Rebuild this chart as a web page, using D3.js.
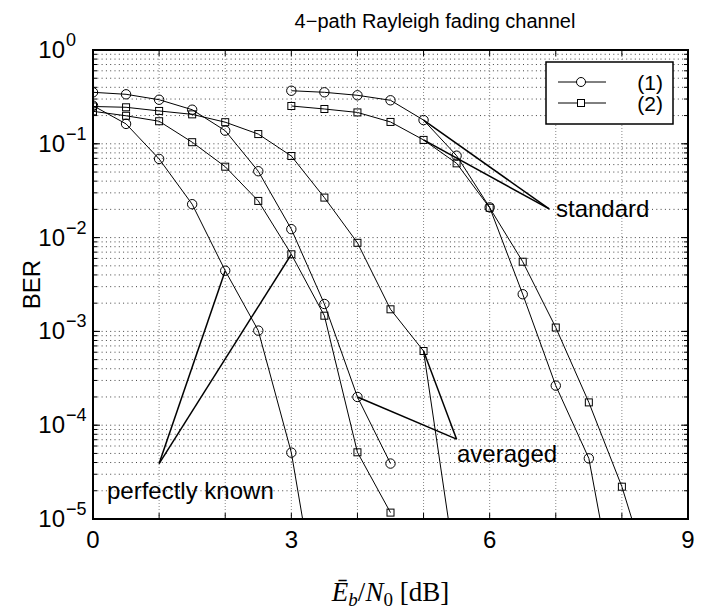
<!DOCTYPE html>
<head>
	<meta charset="utf-8">
	<script src="https://d3js.org/d3.v7.min.js"></script>
	<style>
		body { margin: 0; background: #fff; }
		text { font-family: "Liberation Sans", Arial, sans-serif; fill: #000; }
	</style>
</head>
<body>
	<script type="text/javascript">

		var w = 705;
		var h = 609;

		// Eb/N0 in dB, one array for every curve
		var snrPerfect1 = [0, 0.5, 1, 1.5, 2, 2.5, 3, 3.5];
		var berPerfect1 = [0.255, 0.163, 0.069, 0.0227, 0.00444, 0.00102, 5.1e-5, 4.3e-7];

		var snrAveraged1 = [0, 0.5, 1, 1.5, 2, 2.5, 3, 3.5, 4, 4.5];
		var berAveraged1 = [0.354, 0.337, 0.295, 0.231, 0.138, 0.051, 0.0123, 0.00196, 2.0e-4, 3.9e-5];

		var snrStandard1 = [3, 3.5, 4, 4.5, 5, 5.5, 6, 6.5, 7, 7.5, 8];
		var berStandard1 = [0.368, 0.354, 0.329, 0.291, 0.179, 0.0747, 0.021, 0.00249, 2.64e-4, 4.43e-5, 5.6e-7];

		var snrPerfect2 = [0, 0.5, 1, 1.5, 2, 2.5, 3, 3.5, 4, 4.5];
		var berPerfect2 = [0.222, 0.199, 0.174, 0.104, 0.057, 0.0246, 0.00664, 0.00147, 5.14e-5, 1.17e-5];

		var snrAveraged2 = [0, 0.5, 1, 1.5, 2, 2.5, 3, 3.5, 4, 4.5, 5, 5.5];
		var berAveraged2 = [0.25, 0.245, 0.224, 0.206, 0.170, 0.127, 0.0741, 0.0267, 0.0088, 0.00172, 6.18e-4, 2.5e-6];

		var snrStandard2 = [3, 3.5, 4, 4.5, 5, 5.5, 6, 6.5, 7, 7.5, 8, 8.5];
		var berStandard2 = [0.253, 0.235, 0.216, 0.171, 0.110, 0.0619, 0.0208, 0.00553, 0.0011, 1.75e-4, 2.21e-5, 1.6e-6];

		var xTicks = [0, 1, 2, 3, 4, 5, 6, 7, 8, 9];
		var xTickLabels = ["0", "", "", "3", "", "", "6", "", "", "9"];
		var yExponents = [0, -1, -2, -3, -4, -5];
		var legendLabels = ["(1)", "(2)"];

		// annotation: tip point, then the points the lines go to
		var notes = [
			{text: "standard", tip: [6.9, 0.0202], to: [[5, 0.179], [5, 0.110]]},
			{text: "averaged", tip: [5.5, 7.1e-5], to: [[4, 2.0e-4], [5, 6.18e-4]]},
			{text: "perfectly known", tip: [1, 3.9e-5], to: [[2, 0.00444], [3, 0.00664]]}
		];

		var pLeft = 93, pRight = 688, pTop = 50, pBottom = 519;

		var svg = d3.select("body")
				.append("svg")
				.attr("width", w)
				.attr("height", h);

		var xScale = d3.scaleLinear()
					.domain([0, 9])
					.range([pLeft, pRight]);

		var yScale = d3.scaleLog()
					.domain([1e-5, 1])
					.range([pBottom, pTop]);

		svg.append("clipPath")
			.attr("id", "plotclip")
			.append("rect")
			.attr("x", pLeft)
			.attr("y", pTop)
			.attr("width", pRight - pLeft)
			.attr("height", pBottom - pTop);

		// grid
		var minorVals = [];
		yExponents.forEach(function(e) {
			if (e == 0) return;
			for (var k = 1; k <= 9; k++) minorVals.push(k * Math.pow(10, e));
		});

		svg.append("g").selectAll("line")
			.data(minorVals)
			.enter()
			.append("line")
			.attr("x1", pLeft)
			.attr("x2", pRight)
			.attr("y1", function(d) { return yScale(d); })
			.attr("y2", function(d) { return yScale(d); })
			.attr("stroke", "#444")
			.attr("stroke-width", 1)
			.attr("stroke-dasharray", "1,3.3");

		svg.append("g").selectAll("line")
			.data(xTicks.slice(1, -1))
			.enter()
			.append("line")
			.attr("x1", function(d) { return xScale(d); })
			.attr("x2", function(d) { return xScale(d); })
			.attr("y1", pTop)
			.attr("y2", pBottom)
			.attr("stroke", "#888")
			.attr("stroke-width", 1)
			.attr("stroke-dasharray", "1,2");

		// curves
		var series = [
			{x: snrPerfect1, y: berPerfect1, mark: "circle"},
			{x: snrAveraged1, y: berAveraged1, mark: "circle"},
			{x: snrStandard1, y: berStandard1, mark: "circle"},
			{x: snrPerfect2, y: berPerfect2, mark: "square"},
			{x: snrAveraged2, y: berAveraged2, mark: "square"},
			{x: snrStandard2, y: berStandard2, mark: "square"}
		];

		var line = d3.line()
				.x(function(d) { return xScale(d[0]); })
				.y(function(d) { return yScale(d[1]); });

		var plot = svg.append("g").attr("clip-path", "url(#plotclip)");

		series.forEach(function(s) {
			var pts = s.x.map(function(v, i) { return [v, s.y[i]]; });
			plot.append("path")
				.attr("d", line(pts))
				.attr("fill", "none")
				.attr("stroke", "#000")
				.attr("stroke-width", 1);

			var shown = pts.filter(function(p) { return p[1] >= 1e-5; });
			if (s.mark == "circle") {
				plot.selectAll(null)
					.data(shown)
					.enter()
					.append("circle")
					.attr("cx", function(d) { return xScale(d[0]); })
					.attr("cy", function(d) { return yScale(d[1]); })
					.attr("r", 4.7)
					.attr("fill", "none")
					.attr("stroke", "#000");
			} else {
				plot.selectAll(null)
					.data(shown)
					.enter()
					.append("rect")
					.attr("x", function(d) { return xScale(d[0]) - 3.5; })
					.attr("y", function(d) { return yScale(d[1]) - 3.5; })
					.attr("width", 7)
					.attr("height", 7)
					.attr("fill", "none")
					.attr("stroke", "#000");
			}
		});

		// annotations
		notes.forEach(function(n) {
			n.to.forEach(function(p) {
				svg.append("line")
					.attr("x1", xScale(n.tip[0]))
					.attr("y1", yScale(n.tip[1]))
					.attr("x2", xScale(p[0]))
					.attr("y2", yScale(p[1]))
					.attr("stroke", "#000")
					.attr("stroke-width", 1.5);
			});
		});

		svg.append("text").attr("x", 556).attr("y", 217).attr("font-size", 24).text(notes[0].text);
		svg.append("text").attr("x", 457).attr("y", 462).attr("font-size", 24).text(notes[1].text);
		svg.append("text").attr("x", 107).attr("y", 499).attr("font-size", 24).text(notes[2].text);

		// frame and ticks
		svg.append("rect")
			.attr("x", pLeft)
			.attr("y", pTop)
			.attr("width", pRight - pLeft)
			.attr("height", pBottom - pTop)
			.attr("fill", "none")
			.attr("stroke", "#000")
			.attr("stroke-width", 2);

		var ticks = svg.append("g").attr("stroke", "#000").attr("stroke-width", 1);
		xTicks.forEach(function(t) {
			ticks.append("line").attr("x1", xScale(t)).attr("x2", xScale(t)).attr("y1", pBottom).attr("y2", pBottom - 6);
			ticks.append("line").attr("x1", xScale(t)).attr("x2", xScale(t)).attr("y1", pTop).attr("y2", pTop + 6);
		});
		yExponents.forEach(function(e) {
			var y = yScale(Math.pow(10, e));
			ticks.append("line").attr("x1", pLeft).attr("x2", pLeft + 7).attr("y1", y).attr("y2", y);
			ticks.append("line").attr("x1", pRight).attr("x2", pRight - 7).attr("y1", y).attr("y2", y);
		});
		minorVals.forEach(function(v) {
			var y = yScale(v);
			ticks.append("line").attr("x1", pLeft).attr("x2", pLeft + 4).attr("y1", y).attr("y2", y);
			ticks.append("line").attr("x1", pRight).attr("x2", pRight - 4).attr("y1", y).attr("y2", y);
		});

		// tick labels
		svg.append("g").selectAll("text")
			.data(xTicks)
			.enter()
			.append("text")
			.attr("x", function(d) { return xScale(d); })
			.attr("y", 548)
			.attr("text-anchor", "middle")
			.attr("font-size", 24)
			.text(function(d, i) { return xTickLabels[i]; });

		yExponents.forEach(function(e) {
			var y = yScale(Math.pow(10, e));
			svg.append("text")
				.attr("x", 65)
				.attr("y", y + 8)
				.attr("text-anchor", "end")
				.attr("font-size", 24)
				.text("10");
			svg.append("text")
				.attr("x", 66)
				.attr("y", y - 4)
				.attr("font-size", 18)
				.text(e == 0 ? "0" : "\u2212" + (-e));
		});

		// title and axis labels
		svg.append("text")
			.attr("x", 435)
			.attr("y", 28)
			.attr("text-anchor", "middle")
			.attr("font-size", 20)
			.text("4\u2212path Rayleigh fading channel");

		svg.append("text")
			.attr("transform", "translate(40," + (pTop + pBottom) / 2 + ") rotate(-90)")
			.attr("text-anchor", "middle")
			.attr("font-size", 24)
			.text("BER");

		var xl = svg.append("text")
			.attr("x", (pLeft + pRight) / 2)
			.attr("y", 601)
			.attr("text-anchor", "middle")
			.attr("font-size", 27)
			.style("font-family", "'Liberation Serif', serif");
		xl.append("tspan").attr("font-style", "italic").text("\u0112");
		xl.append("tspan").attr("font-style", "italic").attr("font-size", 19).attr("dy", 5).text("b");
		xl.append("tspan").attr("dy", -5).text("/");
		xl.append("tspan").attr("font-style", "italic").text("N");
		xl.append("tspan").attr("font-size", 19).attr("dy", 5).text("0");
		xl.append("tspan").attr("dy", -5).text(" [dB]");

		// legend
		var lg = svg.append("g");
		lg.append("rect")
			.attr("x", 546)
			.attr("y", 62)
			.attr("width", 127)
			.attr("height", 62)
			.attr("fill", "#fff")
			.attr("stroke", "#000")
			.attr("stroke-width", 1.5);

		legendLabels.forEach(function(lab, i) {
			var y = 82 + i * 21;
			lg.append("line").attr("x1", 558).attr("x2", 606).attr("y1", y).attr("y2", y).attr("stroke", "#000");
			if (i == 0) {
				lg.append("circle").attr("cx", 581).attr("cy", y).attr("r", 4.5).attr("fill", "#fff").attr("stroke", "#000");
			} else {
				lg.append("rect").attr("x", 577.5).attr("y", y - 3.5).attr("width", 7).attr("height", 7).attr("fill", "#fff").attr("stroke", "#000");
			}
			lg.append("text")
				.attr("x", 663)
				.attr("y", y + 8)
				.attr("text-anchor", "end")
				.attr("font-size", 21)
				.text(lab);
		});

	</script>
</body>
